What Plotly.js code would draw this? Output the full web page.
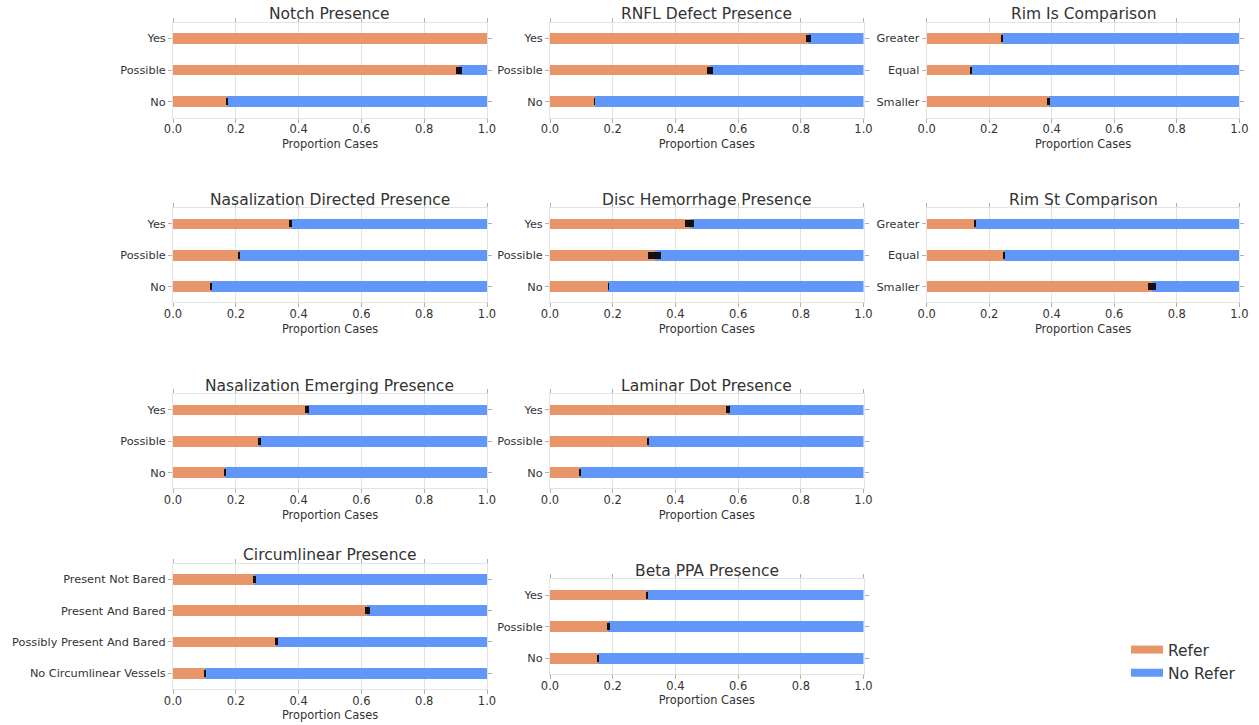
<!DOCTYPE html>
<html>
<head>
<meta charset="utf-8">
<script src="https://cdn.plot.ly/plotly-3.0.1.min.js"></script>
<style>
  html, body { margin: 0; padding: 0; background: #fff; }
  #chart { width: 1259px; height: 725px; }
</style>
</head>
<body>
<div id="chart"></div>
<script>
// Share of cases referred, per feature level, with standard error of the share.

const notchCats = ['No', 'Possible', 'Yes'];
const notchRefer = [0.171, 0.910, 1.000];
const notchErr = [0.003, 0.009, 0.000];

const rnflCats = ['No', 'Possible', 'Yes'];
const rnflRefer = [0.142, 0.511, 0.823];
const rnflErr = [0.002, 0.010, 0.008];

const rimIsCats = ['Smaller', 'Equal', 'Greater'];
const rimIsRefer = [0.390, 0.143, 0.241];
const rimIsErr = [0.006, 0.003, 0.004];

const nasDirCats = ['No', 'Possible', 'Yes'];
const nasDirRefer = [0.121, 0.210, 0.375];
const nasDirErr = [0.003, 0.003, 0.004];

const discCats = ['No', 'Possible', 'Yes'];
const discRefer = [0.186, 0.334, 0.445];
const discErr = [0.002, 0.020, 0.014];

const rimStCats = ['Smaller', 'Equal', 'Greater'];
const rimStRefer = [0.722, 0.246, 0.155];
const rimStErr = [0.013, 0.003, 0.003];

const nasEmCats = ['No', 'Possible', 'Yes'];
const nasEmRefer = [0.165, 0.275, 0.427];
const nasEmErr = [0.003, 0.004, 0.007];

const laminarCats = ['No', 'Possible', 'Yes'];
const laminarRefer = [0.096, 0.313, 0.567];
const laminarErr = [0.002, 0.004, 0.006];

const circCats = ['No Circumlinear Vessels', 'Possibly Present And Bared', 'Present And Bared', 'Present Not Bared'];
const circRefer = [0.101, 0.329, 0.619, 0.259];
const circErr = [0.003, 0.004, 0.009, 0.004];

const betaCats = ['No', 'Possible', 'Yes'];
const betaRefer = [0.153, 0.186, 0.309];
const betaErr = [0.003, 0.004, 0.004];

const xTicks = [0, 0.2, 0.4, 0.6, 0.8, 1.0];
const seriesNames = ['Refer', 'No Refer'];

const panels = [
  { title: 'Notch Presence', cats: notchCats, refer: notchRefer, err: notchErr },
  { title: 'RNFL Defect Presence', cats: rnflCats, refer: rnflRefer, err: rnflErr },
  { title: 'Rim Is Comparison', cats: rimIsCats, refer: rimIsRefer, err: rimIsErr },
  { title: 'Nasalization Directed Presence', cats: nasDirCats, refer: nasDirRefer, err: nasDirErr },
  { title: 'Disc Hemorrhage Presence', cats: discCats, refer: discRefer, err: discErr },
  { title: 'Rim St Comparison', cats: rimStCats, refer: rimStRefer, err: rimStErr },
  { title: 'Nasalization Emerging Presence', cats: nasEmCats, refer: nasEmRefer, err: nasEmErr },
  { title: 'Laminar Dot Presence', cats: laminarCats, refer: laminarRefer, err: laminarErr },
  { title: 'Circumlinear Presence', cats: circCats, refer: circRefer, err: circErr },
  { title: 'Beta PPA Presence', cats: betaCats, refer: betaRefer, err: betaErr }
];

// Panel frames in pixels: [left, right, top, bottom]
const W = 1259, H = 725;
const colX = [[173, 487], [550, 863.5], [926.7, 1239.3]];
const rowY = [[22.5, 117.5], [208.3, 302.3], [394.3, 488.3]];
const frames = [
  [...colX[0], ...rowY[0]], [...colX[1], ...rowY[0]], [...colX[2], ...rowY[0]],
  [...colX[0], ...rowY[1]], [...colX[1], ...rowY[1]], [...colX[2], ...rowY[1]],
  [...colX[0], ...rowY[2]], [...colX[1], ...rowY[2]],
  [...colX[0], 563.6, 689.0], [...colX[1], 579.2, 674.2]
];

const ORANGE = '#E9956A';
const BLUE = '#6097F9';
const FONT = 'DejaVu Sans';
const TXT = '#333333';

const data = [];
const layout = {
  width: W, height: H,
  margin: { l: 0, r: 0, t: 0, b: 0 },
  paper_bgcolor: '#ffffff',
  plot_bgcolor: '#ffffff',
  font: { family: FONT, color: TXT },
  barmode: 'overlay',
  bargap: 0,
  hovermode: false,
  showlegend: true,
  legend: {
    x: 1126 / W, y: 1 - 633 / H, xanchor: 'left', yanchor: 'top',
    font: { family: FONT, size: 15.5, color: TXT },
    itemwidth: 32,
    bgcolor: 'rgba(0,0,0,0)', tracegroupgap: 0
  },
  annotations: []
};

panels.forEach((p, i) => {
  const n = i + 1;
  const xa = n === 1 ? 'x' : 'x' + n;
  const ya = n === 1 ? 'y' : 'y' + n;
  const [l, r, t, b] = frames[i];

  // remaining share, stacked after the referred share
  data.push({
    type: 'bar', orientation: 'h', xaxis: xa, yaxis: ya,
    y: p.cats, x: p.refer.map(v => 1 - v), base: p.refer,
    width: 0.34, marker: { color: BLUE, line: { width: 0 } },
    name: seriesNames[1], showlegend: false
  });
  data.push({
    type: 'bar', orientation: 'h', xaxis: xa, yaxis: ya,
    y: p.cats, x: p.refer, base: 0,
    width: 0.34, marker: { color: ORANGE, line: { width: 0 } },
    error_x: { type: 'data', array: p.err, visible: true, color: '#111111', thickness: 7, width: 0 },
    name: seriesNames[0], showlegend: false
  });

  layout['xaxis' + (n === 1 ? '' : n)] = {
    domain: [l / W, r / W], anchor: ya,
    range: [0, 1], tickvals: xTicks, tickformat: '.1f',
    showgrid: true, gridcolor: '#e3e3e3', gridwidth: 1, zeroline: false,
    showline: true, linecolor: '#e3e3e3', linewidth: 1, mirror: 'ticks',
    ticks: 'outside', ticklen: 4, tickcolor: '#b0b0b0', tickwidth: 1,
    ticklabelstandoff: -3,
    tickfont: { family: FONT, size: 11.5, color: TXT },
    title: { text: 'Proportion Cases', font: { family: FONT, size: 11.4, color: TXT }, standoff: 4 },
    fixedrange: true
  };
  layout['yaxis' + (n === 1 ? '' : n)] = {
    domain: [1 - b / H, 1 - t / H], anchor: xa,
    type: 'category', categoryorder: 'array', categoryarray: p.cats,
    range: [-0.5, p.cats.length - 0.5],
    showgrid: false, zeroline: false,
    showline: true, linecolor: '#e3e3e3', linewidth: 1, mirror: 'ticks',
    ticks: 'outside', ticklen: 4, tickcolor: '#b0b0b0', tickwidth: 1,
    tickfont: { family: FONT, size: 11.3, color: TXT },
    fixedrange: true
  };
  layout.annotations.push({
    text: p.title, xref: 'paper', yref: 'paper',
    x: (l + r) / 2 / W, y: 1 - t / H, xanchor: 'center', yanchor: 'middle',
    yshift: 8.5, showarrow: false,
    font: { family: FONT, size: 15.5, color: TXT }
  });
});

// legend entries
seriesNames.forEach((nm, k) => {
  data.push({
    type: 'scatter', mode: 'lines', x: [null], y: [null], xaxis: 'x', yaxis: 'y',
    name: nm, line: { color: k === 0 ? ORANGE : BLUE, width: 8 },
    showlegend: true, hoverinfo: 'skip'
  });
});

Plotly.newPlot('chart', data, layout, { staticPlot: true, displayModeBar: false });
</script>
</body>
</html>
